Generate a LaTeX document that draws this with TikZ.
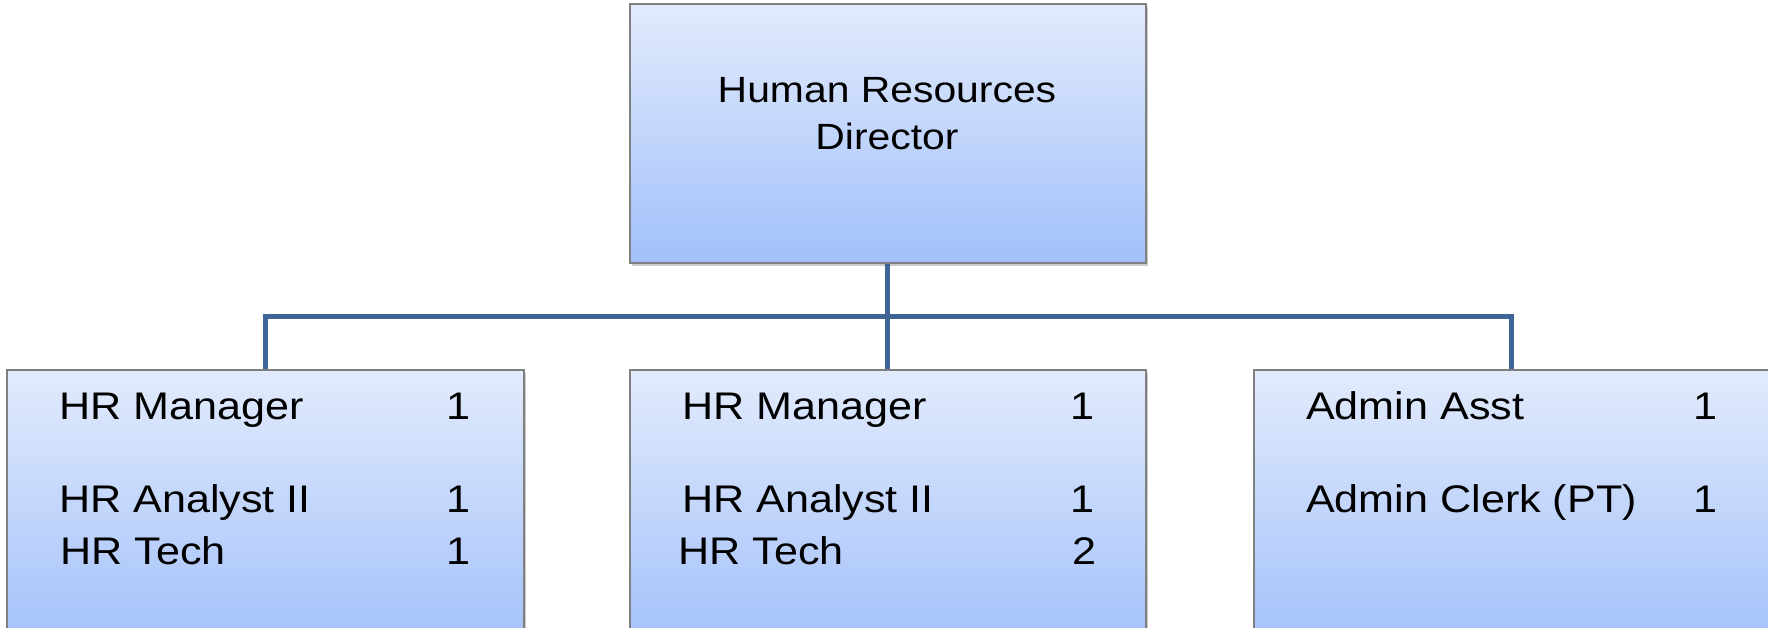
\documentclass[tikz,border=0pt]{standalone}
\usepackage{fontspec}
\usetikzlibrary{shadows}
\newfontfamily\hrfont[FakeStretch=1.12]{Liberation Sans}
\definecolor{boxtop}{RGB}{226,235,252}
\definecolor{boxbot}{RGB}{162,192,250}
\definecolor{boxedge}{RGB}{128,128,128}
\definecolor{connblue}{RGB}{62,101,150}
\begin{document}
\begin{tikzpicture}[x=1pt,y=-1pt,
  orgbox/.style={draw=boxedge, line width=1.5pt, top color=boxtop, bottom color=boxbot,
    inner sep=0pt, anchor=north west,
    drop shadow={shadow xshift=2pt, shadow yshift=-3pt, opacity=0.35, fill=black!60}},
  conn/.style={draw=connblue, line width=5pt},
  lbl/.style={font=\hrfont\fontsize{38.5}{50}\selectfont, inner sep=0pt, text=black},
  toplbl/.style={font=\hrfont\fontsize{36.5}{50}\selectfont, inner sep=0pt, text=black, anchor=base},
  lw/.style={lbl, anchor=base west},
  le/.style={lbl, anchor=base east}]
\useasboundingbox (0,0) rectangle (1768,627);
\begin{scope}
\clip (0,0) rectangle (1768,627);
% boxes
\node[orgbox, minimum width=516pt, minimum height=259pt] (top) at (629,3) {};
\node[orgbox, minimum width=517pt, minimum height=280pt] (left) at (6,369) {};
\node[orgbox, minimum width=516pt, minimum height=280pt] (mid) at (629,369) {};
\node[orgbox, minimum width=516pt, minimum height=280pt] (right) at (1253,369) {};
% connectors
\coordinate (bus) at (887,316);
\draw[conn] (top.south) -- (mid.north);
\draw[conn] (left.north) |- (bus) -| (right.north);
\end{scope}
% top text
\node[toplbl] (hr1) at (887,102) {Human Resources};
\node[toplbl] (hr2) at (887,149) {Director};
% left box
\node[lw] (l1) at (59,419) {HR Manager};
\node[le] (l1n) at (471,419) {1};
\node[lw] (l2) at (59,512) {HR Analyst II};
\node[le] (l2n) at (471,512) {1};
\node[lw] (l3) at (60,564) {HR Tech};
\node[le] (l3n) at (471,564) {1};
% middle box
\node[lw] (m1) at (682,419) {HR Manager};
\node[le] (m1n) at (1095,419) {1};
\node[lw] (m2) at (682,512) {HR Analyst II};
\node[le] (m2n) at (1095,512) {1};
\node[lw] (m3) at (678,564) {HR Tech};
\node[le] (m3n) at (1097,564) {2};
% right box
\node[lw] (r1) at (1306,419) {Admin Asst};
\node[le] (r1n) at (1718,419) {1};
\node[lw] (r2) at (1306,512) {Admin Clerk (PT)};
\node[le] (r2n) at (1718,512) {1};
\end{tikzpicture}
\end{document}
